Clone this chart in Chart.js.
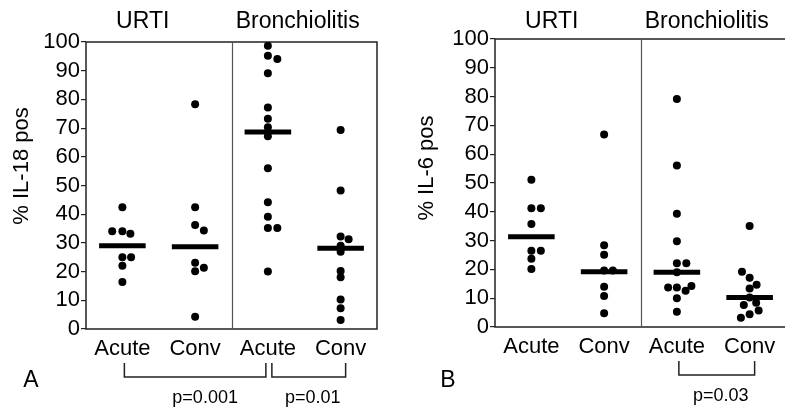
<!DOCTYPE html>
<html><head><meta charset="utf-8">
<script src="https://cdn.jsdelivr.net/npm/chart.js@4/dist/chart.umd.min.js"></script>
<style>
html,body{margin:0;padding:0;background:#fff;overflow:hidden;width:785px;height:410px;position:relative;}
canvas{position:absolute;top:0;}
</style></head><body>
<canvas id="cA" width="400" height="410" style="left:0"></canvas>
<canvas id="cB" width="400" height="410" style="left:400px"></canvas>
<script>
// ---------- data ----------
const categories = ['Acute', 'Conv', 'Acute', 'Conv'];
const groups = ['URTI', 'Bronchiolitis'];
const yTickValues = [0, 10, 20, 30, 40, 50, 60, 70, 80, 90, 100];

// Panel A: % IL-18 pos
const il18UrtiAcute   = [42.4, 34.1, 34.1, 33.2, 25, 25, 22, 16.4];
const il18UrtiConv    = [78.3, 42.4, 36.2, 34.3, 23.1, 21.3, 20.1, 4.3];
const il18BronAcute   = [98.7, 95.2, 94.1, 89.1, 77.2, 73.3, 70.3, 67.2, 56, 44.2, 39.1, 35.2, 35.2, 20];
const il18BronConv    = [69.3, 48.3, 32.2, 31.3, 29, 26.9, 20.2, 18, 10.3, 7.2, 3.1];
const il18Medians     = [29, 28.7, 68.6, 28.1];
// horizontal spread of overlapping dots (category units)
const il18UrtiAcuteJit = [0, -0.14, 0, 0.11, 0, 0.12, 0, 0];
const il18UrtiConvJit  = [0, 0, 0, 0.12, 0, 0.12, 0, 0];
const il18BronAcuteJit = [0, 0, 0.13, 0, 0, 0, 0, 0, 0, 0, 0, 0, 0.13, 0];
const il18BronConvJit  = [0, 0, 0, 0.11, 0, 0, 0, 0, 0, 0, 0];
const il18Brackets = [[0, 2, 'p=0.001'], [2, 3, 'p=0.01']];

// Panel B: % IL-6 pos
const il6UrtiAcute   = [51.1, 41.2, 41.2, 35.8, 26.5, 26.5, 23.7, 20.1];
const il6UrtiConv    = [66.8, 28.4, 25.1, 19.6, 19.6, 14, 10.8, 4.8];
const il6BronAcute   = [79.2, 56.1, 39.3, 29.8, 22.1, 22.1, 19, 14.2, 13.7, 13.7, 12.6, 10, 5.3];
const il6BronConv    = [35.1, 19.2, 17.1, 14.7, 13.4, 10.2, 8.4, 7.6, 5.7, 4.4, 3.2];
const il6Medians     = [31.3, 19.2, 19, 10.2];
const il6UrtiAcuteJit = [0, 0, 0.13, 0, 0, 0.13, 0, 0];
const il6UrtiConvJit  = [0, 0, 0, 0, 0.12, 0, 0, 0];
const il6BronAcuteJit = [0, 0, 0, 0, 0, 0.13, 0, 0.2, -0.12, 0, 0.12, 0, 0];
const il6BronConvJit  = [0, -0.105, 0, 0.096, 0, 0, 0.09, -0.08, 0.124, 0, -0.12];
const il6Brackets = [[2, 3, 'p=0.03']];

// ---------- drawing ----------
const FONT = '"Liberation Sans", Arial, Helvetica, sans-serif';
Chart.defaults.font.family = FONT;
Chart.defaults.color = '#000';

const decor = {
  id: 'decor',
  beforeDatasetsDraw(chart, args, o) {
    const {ctx, chartArea: a, scales: {x}} = chart;
    ctx.save();
    ctx.strokeStyle = '#222'; ctx.lineWidth = 1.5;
    ctx.strokeRect(a.left, a.top, a.right - a.left, a.bottom - a.top);
    ctx.strokeStyle = '#555'; ctx.lineWidth = 1.2;
    const dx = Math.round(x.getPixelForValue(1.5)) + 0.5;
    ctx.beginPath(); ctx.moveTo(dx, a.top); ctx.lineTo(dx, a.bottom); ctx.stroke();
    ctx.restore();
  },
  afterDraw(chart, args, o) {
    const {ctx, chartArea: a, scales: {x}} = chart;
    ctx.save();
    ctx.fillStyle = '#000';
    // group headers
    ctx.font = '23px ' + FONT;
    ctx.textAlign = 'center'; ctx.textBaseline = 'middle';
    ctx.fillText(groups[0], x.getPixelForValue(0.28), 22);
    ctx.fillText(groups[1], x.getPixelForValue(2.41), 22);
    // y title
    ctx.font = '22px ' + FONT;
    ctx.save();
    ctx.translate(o.titleX, o.titleY);
    ctx.rotate(-Math.PI / 2);
    ctx.fillText(o.yTitle, 0, 0);
    ctx.restore();
    // panel letter
    ctx.font = '23px ' + FONT;
    ctx.textBaseline = 'alphabetic';
    ctx.fillText(o.letter, o.letterX, 386.5);
    // brackets
    ctx.strokeStyle = '#222'; ctx.lineWidth = 1.5;
    const br = o.brackets;
    br.forEach(([f, t, label]) => {
      const shared = br.some(b => b[0] === t);
      const x1 = x.getPixelForValue(f) + (br.some(b => b[1] === f) ? 4 : 2);
      const x2 = x.getPixelForValue(t) + (shared ? -2 : 5);
      const y1 = a.bottom + 34, y2 = a.bottom + 48;
      ctx.beginPath();
      ctx.moveTo(x1, y1); ctx.lineTo(x1, y2); ctx.lineTo(x2, y2); ctx.lineTo(x2, y1);
      ctx.stroke();
      ctx.font = '18px ' + FONT;
      ctx.textAlign = 'center';
      ctx.fillText(label, (x1 + x2) / 2 + (shared ? 10 : 4), a.bottom + 73.5);
    });
    ctx.restore();
  }
};

function makeChart(canvasId, series, jitters, medians, p) {
  const pts = [];
  series.forEach((vals, i) => vals.forEach((v, k) => pts.push({x: i + jitters[i][k], y: v})));
  const datasets = [{
    type: 'scatter', data: pts, backgroundColor: '#000', borderColor: '#000',
    pointRadius: 4, pointBorderWidth: 0, order: 2
  }];
  medians.forEach((m, i) => datasets.push({
    type: 'line', data: [{x: i - 0.32, y: m}, {x: i + 0.32, y: m}],
    borderColor: '#000', borderWidth: 5, pointRadius: 0, borderCapStyle: 'butt', order: 1
  }));
  return new Chart(document.getElementById(canvasId), {
    type: 'scatter',
    data: {datasets},
    plugins: [decor],
    options: {
      responsive: false, animation: false, events: [],
      layout: {padding: {left: 0, right: p.padRight, top: p.padTop, bottom: p.padBottom}},
      plugins: {legend: {display: false}, tooltip: {enabled: false}, decor: p.decor},
      scales: {
        x: {
          type: 'linear', min: -0.5, max: 3.5,
          afterBuildTicks: s => { s.ticks = categories.map((c, i) => ({value: i})); },
          afterFit: s => { s.height = 40; },
          ticks: {callback: v => categories[v] ?? '', font: {size: 22}, color: '#000',
                  padding: 7, maxRotation: 0, autoSkip: false},
          grid: {display: false, drawTicks: false},
          border: {display: false}
        },
        y: {
          min: 0, max: 100,
          afterBuildTicks: s => { s.ticks = yTickValues.map(v => ({value: v})); },
          afterFit: s => { s.width = p.yWidth; },
          ticks: {font: {size: 22}, color: '#000', padding: 1, autoSkip: false},
          grid: {display: true, drawOnChartArea: false, drawTicks: true, tickLength: 5,
                 color: '#222', lineWidth: 1.2},
          border: {display: false}
        }
      }
    }
  });
}

makeChart('cA',
  [il18UrtiAcute, il18UrtiConv, il18BronAcute, il18BronConv],
  [il18UrtiAcuteJit, il18UrtiConvJit, il18BronAcuteJit, il18BronConvJit],
  il18Medians,
  {padRight: 23, padTop: 42, padBottom: 41, yWidth: 86,
   decor: {yTitle: '% IL-18 pos', titleX: 22, titleY: 166, letter: 'A', letterX: 31, brackets: il18Brackets}});

makeChart('cB',
  [il6UrtiAcute, il6UrtiConv, il6BronAcute, il6BronConv],
  [il6UrtiAcuteJit, il6UrtiConvJit, il6BronAcuteJit, il6BronConvJit],
  il6Medians,
  {padRight: 14, padTop: 39, padBottom: 43, yWidth: 95,
   decor: {yTitle: '% IL-6 pos', titleX: 27, titleY: 168, letter: 'B', letterX: 48, brackets: il6Brackets}});
</script>
</body></html>
